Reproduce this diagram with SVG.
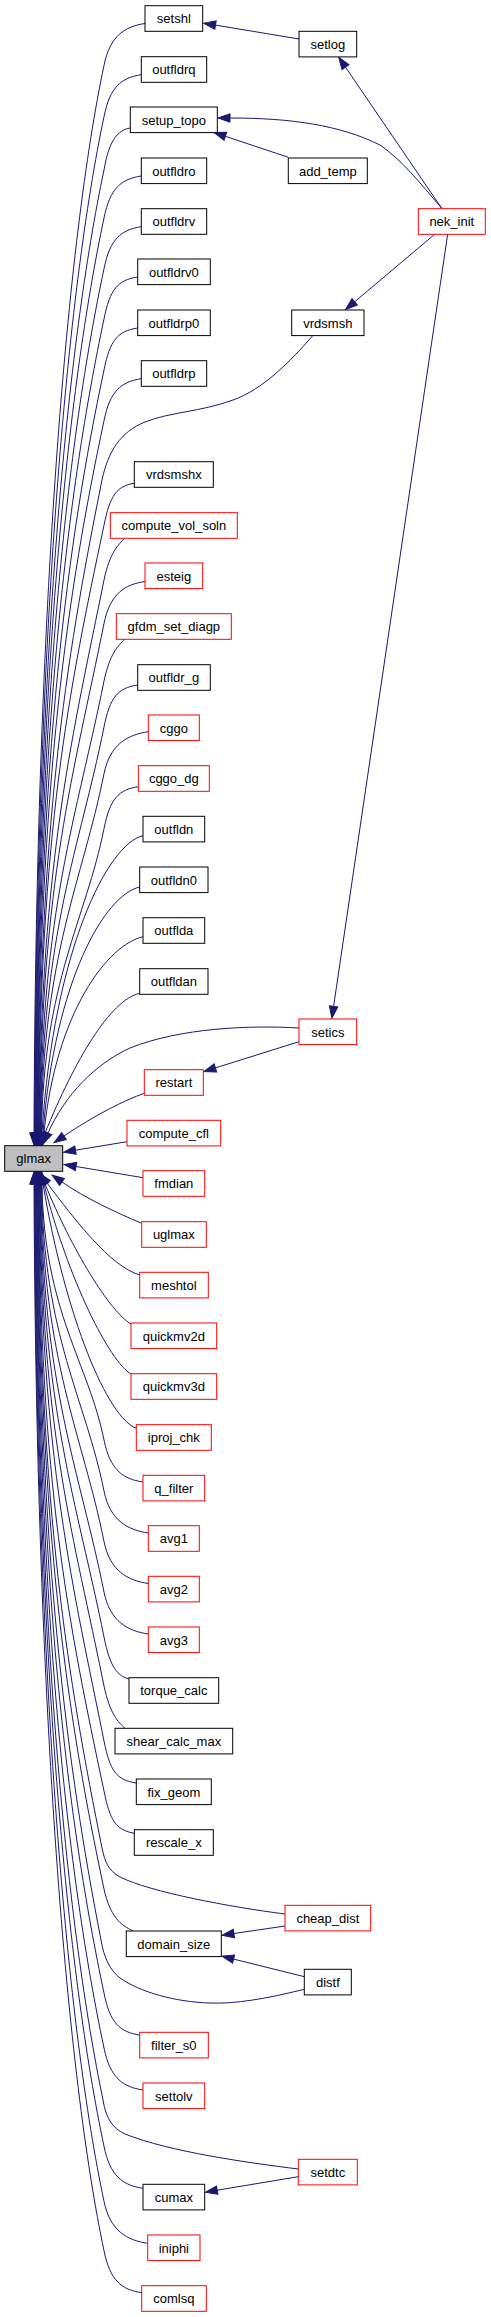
<svg xmlns="http://www.w3.org/2000/svg" width="491" height="2317" viewBox="0 0 491 2317">
<style>
.e{fill:none;stroke:#191970;stroke-width:1;marker-end:url(#ah)}
.n rect{fill:#fff;stroke:#000;stroke-width:1}
.n.r rect{stroke:#ff0000}
.n.g rect{fill:#bfbfbf}
.n text{font-family:"Liberation Sans",Arial,Helvetica,sans-serif;font-size:13px;fill:#000;text-anchor:middle}
</style>
<defs>
<marker id="ah" markerUnits="userSpaceOnUse" markerWidth="14" markerHeight="10" viewBox="0 0 14 10" refX="0" refY="5" orient="auto" overflow="visible"><path d="M0,0.8 L12,5 L0,9.2 z" fill="#191970" stroke="#191970" stroke-width="1"/></marker>
</defs>
<rect width="491" height="2317" fill="#fff"/>
<g id="edges">
<path class="e" d="M145,23.5 C125,26.5 110,35.5 104,65.5 C68,235.5 36,599 34,1133"/>
<path class="e" d="M141.3,74.7 C121.3,77.7 110,86.7 104,116.7 C68,286.7 36.5,624.7 34.5,1133"/>
<path class="e" d="M130.3,128 C118,130 109,140 104,170 C68,340 37,651.5 35,1133"/>
<path class="e" d="M141.3,176 C121.3,179 110,188 104,218 C68,388 37.5,675.5 35.5,1133"/>
<path class="e" d="M141.3,226.7 C121.3,229.7 110,238.7 104,268.7 C68,438.7 38,701 36,1133"/>
<path class="e" d="M137.7,277 C117.7,280 110,289 104,319 C68,489 38.5,726 36.5,1133"/>
<path class="e" d="M137.7,328 C117.7,331 110,340 104,370 C68,540 39,751.5 37,1133"/>
<path class="e" d="M141.3,378.7 C121.3,381.7 110,390.7 104,420.7 C68,590.7 39.5,777 37.5,1133"/>
<path class="e" d="M313.3,335 C290,362 262,390 233,400 C200,412 170,412 145,422 C120,432 108,452 102,480 C70,640 40,806 38,1133"/>
<path class="e" d="M134.3,483.3 C117,486 110,495 104,525.3 C68,695.3 40.5,829 38.5,1133"/>
<path class="e" d="M125,538 C118,545 110,552 104,580 C74,730 41,856.5 39,1133"/>
<path class="e" d="M145,581.5 C125,584.5 110,593.5 104,623.5 C74,773.5 41.5,878 39.5,1133"/>
<path class="e" d="M125,639 C118,646 110,653 104,681 C76.9,816.6 42,907 40,1133"/>
<path class="e" d="M137.7,685 C117.7,688 110,697 104,727 C79.6,848.8 42.5,930 40.5,1133"/>
<path class="e" d="M148.3,731.7 C128.3,734.7 110,743.7 104,773.7 C82.4,881.5 43,953.4 41,1133"/>
<path class="e" d="M138.3,786.7 C118.3,789.7 110,798.7 104,828.7 C85.7,920 43.5,981 41.5,1133"/>
<path class="e" d="M143,835.7 C108,843.7 54,948.7 42,1133"/>
<path class="e" d="M139.7,887 C104.7,895 55,980 43,1133"/>
<path class="e" d="M143,936.7 C108,944.7 56,1011.3 44,1133"/>
<path class="e" d="M139.7,993.3 C110,1000 75,1060 45,1133"/>
<path class="e" d="M299,1028 C250,1025 180,1028 130,1048 C95,1064 65,1095 48,1133"/>
<path class="e" d="M144.3,1093.3 C125,1100 95,1115 64,1136"/>
<path class="e" d="M127,1141.7 L75.5,1150.2"/>
<path class="e" d="M143,1177.7 L76,1166.5"/>
<path class="e" d="M141.7,1223.3 C115,1212 85,1198 62,1182"/>
<path class="e" d="M139.7,1275 C110,1266 75,1220 47,1183"/>
<path class="e" d="M131,1324 C110,1312 72,1250 45,1184"/>
<path class="e" d="M131,1374 C110,1362 68,1280 44,1184"/>
<path class="e" d="M136.3,1428.3 C108,1418 66,1320 43,1184"/>
<path class="e" d="M143,1482 C123,1479 110,1470 104,1440 C88.6,1363.2 44,1312 42,1184"/>
<path class="e" d="M148.3,1533 C128.3,1530 110,1521 104,1491 C85.6,1398.9 43.5,1337.5 41.5,1184"/>
<path class="e" d="M148.3,1583.5 C128.3,1580.5 110,1571.5 104,1541.5 C82.5,1434.2 43,1362.8 41,1184"/>
<path class="e" d="M148.3,1634 C128.3,1631 110,1622 104,1592 C79.5,1469.6 42.5,1388 40.5,1184"/>
<path class="e" d="M129,1679 C118,1676 110,1668 104,1637 C76.8,1501.1 42,1410.5 40,1184"/>
<path class="e" d="M125,1728.3 C118,1722 110,1714 104,1686 C74,1536 41.5,1435 39.5,1184"/>
<path class="e" d="M136.3,1783 C116.3,1780 110,1771 104,1741 C74,1591 41,1462.5 39,1184"/>
<path class="e" d="M134.3,1833.3 C116,1830 110,1821 104,1791 C68,1621 40.5,1487.5 38.5,1184"/>
<path class="e" d="M285,1914 C230,1907 150,1892 120,1877 C108,1870 105,1862 102,1848 C68,1678 40,1516 38,1184"/>
<path class="e" d="M133.3,1931 C120,1925 110,1916 104,1889 C68,1719 39.5,1536.5 37.5,1184"/>
<path class="e" d="M304.3,1989.3 C265,1999 235,2004 210,2003 C175,2002 140,1992 120,1978 C110,1970 104,1958 101,1940 C68,1770 39,1562 37,1184"/>
<path class="e" d="M139.7,2035 C119.7,2032 110,2023 104,1993 C68,1823 38.5,1588.5 36.5,1184"/>
<path class="e" d="M143,2090 C123,2087 110,2078 104,2048 C68,1878 38,1616 36,1184"/>
<path class="e" d="M298.3,2169 C250,2163 170,2152 125,2134 C112,2128 106,2118 103,2100 C68,1930 37.5,1642 35.5,1184"/>
<path class="e" d="M143,2188.3 C123,2185.3 110,2176.3 104,2146.3 C68,1976.3 37,1665 35,1184"/>
<path class="e" d="M147.7,2243.3 C127.7,2240.3 110,2231.3 104,2201.3 C68,2031.3 36.5,1692.7 34.5,1184"/>
<path class="e" d="M141.7,2292.7 C121.7,2289.7 110,2280.7 104,2250.7 C68,2080.7 36,1717.4 34,1184"/>
<path class="e" d="M299,39 L215.5,25.1"/>
<path class="e" d="M441.7,208.3 L345.5,67.2"/>
<path class="e" d="M441.7,208.3 C420,183 402,160 380,145 C340,125 290,118 230,118"/>
<path class="e" d="M288.3,157.3 L225.4,136.3"/>
<path class="e" d="M435,234 L354.7,301.8"/>
<path class="e" d="M447.7,234 L333.6,1006.4"/>
<path class="e" d="M299,1041.7 L215.4,1067.9"/>
<path class="e" d="M285,1926 L233.9,1933.5"/>
<path class="e" d="M304.3,1976.7 L233.6,1959.1"/>
<path class="e" d="M298.3,2176.7 L217.2,2190.2"/>
</g>
<g id="node-glmax" class="n g"><rect x="4.7" y="1145.7" width="58" height="25.6"/><text x="33.7" y="1163.2">glmax</text></g>
<g id="node-setshl" class="n"><rect x="145" y="5.7" width="57.7" height="25.6"/><text x="173.85" y="23.2">setshl</text></g>
<g id="node-outfldrq" class="n"><rect x="141.3" y="56.7" width="65.4" height="25.6"/><text x="173.85" y="74.2">outfldrq</text></g>
<g id="node-setup_topo" class="n"><rect x="130.3" y="107" width="87" height="25.6"/><text x="173.85" y="124.5">setup_topo</text></g>
<g id="node-outfldro" class="n"><rect x="141.3" y="158" width="65.4" height="25.6"/><text x="173.85" y="175.5">outfldro</text></g>
<g id="node-outfldrv" class="n"><rect x="141.3" y="208.7" width="65.4" height="25.6"/><text x="173.85" y="226.2">outfldrv</text></g>
<g id="node-outfldrv0" class="n"><rect x="137.7" y="259" width="72.6" height="25.6"/><text x="173.85" y="276.5">outfldrv0</text></g>
<g id="node-outfldrp0" class="n"><rect x="137.7" y="310" width="72.6" height="25.6"/><text x="173.85" y="327.5">outfldrp0</text></g>
<g id="node-outfldrp" class="n"><rect x="141.3" y="360.7" width="65.4" height="25.6"/><text x="173.85" y="378.2">outfldrp</text></g>
<g id="node-vrdsmshx" class="n"><rect x="134.3" y="461.7" width="79" height="25.6"/><text x="173.85" y="479.2">vrdsmshx</text></g>
<g id="node-compute_vol_soln" class="n r"><rect x="110.3" y="512.7" width="127" height="25.6"/><text x="173.85" y="530.2">compute_vol_soln</text></g>
<g id="node-esteig" class="n r"><rect x="145" y="563" width="57.7" height="25.6"/><text x="173.85" y="580.5">esteig</text></g>
<g id="node-gfdm_set_diagp" class="n r"><rect x="116.3" y="613.7" width="115" height="25.6"/><text x="173.85" y="631.2">gfdm_set_diagp</text></g>
<g id="node-outfldr_g" class="n"><rect x="137.7" y="664.7" width="72.6" height="25.6"/><text x="173.85" y="682.2">outfldr_g</text></g>
<g id="node-cggo" class="n r"><rect x="148.3" y="715" width="51" height="25.6"/><text x="173.85" y="732.5">cggo</text></g>
<g id="node-cggo_dg" class="n r"><rect x="138.3" y="765.7" width="71" height="25.6"/><text x="173.85" y="783.2">cggo_dg</text></g>
<g id="node-outfldn" class="n"><rect x="143" y="816.3" width="61.7" height="25.6"/><text x="173.85" y="833.8">outfldn</text></g>
<g id="node-outfldn0" class="n"><rect x="139.7" y="867" width="68.3" height="25.6"/><text x="173.85" y="884.5">outfldn0</text></g>
<g id="node-outflda" class="n"><rect x="143" y="917.7" width="61.7" height="25.6"/><text x="173.85" y="935.2">outflda</text></g>
<g id="node-outfldan" class="n"><rect x="139.7" y="968.7" width="68.3" height="25.6"/><text x="173.85" y="986.2">outfldan</text></g>
<g id="node-restart" class="n r"><rect x="144.3" y="1069.7" width="59" height="25.6"/><text x="173.85" y="1087.2">restart</text></g>
<g id="node-compute_cfl" class="n r"><rect x="127" y="1120.3" width="93.7" height="25.6"/><text x="173.85" y="1137.8">compute_cfl</text></g>
<g id="node-fmdian" class="n r"><rect x="143" y="1170.7" width="61.7" height="25.6"/><text x="173.85" y="1188.2">fmdian</text></g>
<g id="node-uglmax" class="n r"><rect x="141.7" y="1221.7" width="64.6" height="25.6"/><text x="173.85" y="1239.2">uglmax</text></g>
<g id="node-meshtol" class="n r"><rect x="139.7" y="1272.3" width="68.6" height="25.6"/><text x="173.85" y="1289.8">meshtol</text></g>
<g id="node-quickmv2d" class="n r"><rect x="131" y="1323" width="85.7" height="25.6"/><text x="173.85" y="1340.5">quickmv2d</text></g>
<g id="node-quickmv3d" class="n r"><rect x="131" y="1373.7" width="85.7" height="25.6"/><text x="173.85" y="1391.2">quickmv3d</text></g>
<g id="node-iproj_chk" class="n r"><rect x="136.3" y="1424.7" width="75" height="25.6"/><text x="173.85" y="1442.2">iproj_chk</text></g>
<g id="node-q_filter" class="n r"><rect x="143" y="1475.3" width="61.7" height="25.6"/><text x="173.85" y="1492.8">q_filter</text></g>
<g id="node-avg1" class="n r"><rect x="148.3" y="1525.7" width="51" height="25.6"/><text x="173.85" y="1543.2">avg1</text></g>
<g id="node-avg2" class="n r"><rect x="148.3" y="1576.3" width="51" height="25.6"/><text x="173.85" y="1593.8">avg2</text></g>
<g id="node-avg3" class="n r"><rect x="148.3" y="1627" width="51" height="25.6"/><text x="173.85" y="1644.5">avg3</text></g>
<g id="node-torque_calc" class="n"><rect x="129" y="1677.7" width="89.7" height="25.6"/><text x="173.85" y="1695.2">torque_calc</text></g>
<g id="node-shear_calc_max" class="n"><rect x="115" y="1728.3" width="117.7" height="25.6"/><text x="173.85" y="1745.8">shear_calc_max</text></g>
<g id="node-fix_geom" class="n"><rect x="136.3" y="1779" width="75" height="25.6"/><text x="173.85" y="1796.5">fix_geom</text></g>
<g id="node-rescale_x" class="n"><rect x="134.3" y="1829.7" width="79" height="25.6"/><text x="173.85" y="1847.2">rescale_x</text></g>
<g id="node-domain_size" class="n"><rect x="126.3" y="1931" width="95" height="25.6"/><text x="173.85" y="1948.5">domain_size</text></g>
<g id="node-filter_s0" class="n r"><rect x="139.7" y="2032.3" width="68.6" height="25.6"/><text x="173.85" y="2049.8">filter_s0</text></g>
<g id="node-settolv" class="n r"><rect x="143" y="2083" width="61.7" height="25.6"/><text x="173.85" y="2100.5">settolv</text></g>
<g id="node-cumax" class="n"><rect x="143" y="2184.3" width="61.7" height="25.6"/><text x="173.85" y="2201.8">cumax</text></g>
<g id="node-iniphi" class="n r"><rect x="147.7" y="2235" width="52.3" height="25.6"/><text x="173.85" y="2252.5">iniphi</text></g>
<g id="node-comlsq" class="n r"><rect x="141.7" y="2285.7" width="64.6" height="25.6"/><text x="173.85" y="2303.2">comlsq</text></g>
<g id="node-setlog" class="n"><rect x="299" y="31.3" width="57.7" height="25.6"/><text x="327.85" y="48.8">setlog</text></g>
<g id="node-add_temp" class="n"><rect x="288.3" y="158" width="79" height="25.6"/><text x="327.85" y="175.5">add_temp</text></g>
<g id="node-vrdsmsh" class="n"><rect x="291.7" y="310" width="72.3" height="25.6"/><text x="327.85" y="327.5">vrdsmsh</text></g>
<g id="node-setics" class="n r"><rect x="299" y="1019" width="57.7" height="25.6"/><text x="327.85" y="1036.5">setics</text></g>
<g id="node-cheap_dist" class="n r"><rect x="285" y="1905.3" width="85.7" height="25.6"/><text x="327.85" y="1922.8">cheap_dist</text></g>
<g id="node-distf" class="n"><rect x="304.3" y="1969.3" width="47" height="25.6"/><text x="327.85" y="1986.8">distf</text></g>
<g id="node-setdtc" class="n r"><rect x="298.3" y="2159.3" width="59" height="25.6"/><text x="327.85" y="2176.8">setdtc</text></g>
<g id="node-nek_init" class="n r"><rect x="418.3" y="208.7" width="67" height="25.6"/><text x="451.8" y="226.2">nek_init</text></g>
</svg>
